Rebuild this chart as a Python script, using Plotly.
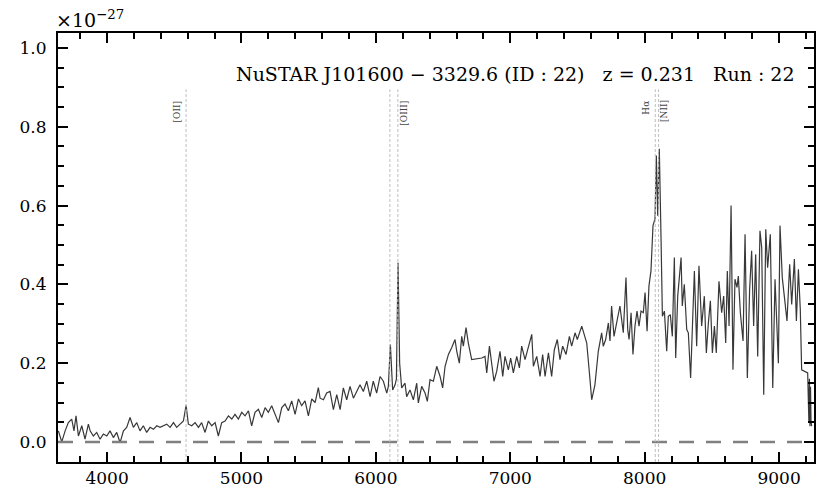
import plotly.graph_objects as go

# spectrum: wavelength in Angstrom, flux in units of 1e-27
wave_blue = [3638, 3663, 3688, 3712, 3737, 3754, 3769, 3787, 3812, 3836,
             3861, 3874, 3898, 3923, 3948, 3973, 3998, 4022, 4047, 4072,
             4097, 4122, 4146, 4171, 4196, 4221, 4245, 4270, 4295, 4320,
             4345, 4370, 4394, 4419, 4444, 4469, 4494, 4518, 4543, 4568,
             4588, 4605, 4630, 4655, 4680, 4704, 4729, 4754, 4779, 4804,
             4828, 4853, 4878, 4903, 4928, 4952, 4977, 5002, 5027, 5052,
             5076, 5101, 5126, 5151, 5176, 5200, 5225, 5250, 5275, 5300,
             5324, 5349, 5374, 5399, 5424, 5448, 5473, 5498, 5523, 5548, 5572]
flux_blue = [0.028, 0.0, 0.028, 0.049, 0.058, 0.028, 0.066, 0.015, 0.041, 0.007,
             0.045, 0.028, 0.015, 0.024, 0.007, 0.020, 0.015, 0.028, 0.011, 0.024,
             -0.002, 0.028, 0.037, 0.062, 0.037, 0.049, 0.028, 0.041, 0.024, 0.037,
             0.032, 0.041, 0.037, 0.041, 0.045, 0.037, 0.049, 0.037, 0.045, 0.053,
             0.093, 0.045, 0.041, 0.049, 0.037, 0.049, 0.024, 0.053, 0.041, 0.049,
             0.015, 0.049, 0.053, 0.066, 0.058, 0.070, 0.058, 0.075, 0.066, 0.079,
             0.041, 0.075, 0.083, 0.062, 0.087, 0.075, 0.092, 0.070, 0.049, 0.087,
             0.096, 0.079, 0.104, 0.070, 0.109, 0.092, 0.104, 0.066, 0.109, 0.100, 0.138]

wave_mid = [5585, 5610, 5634, 5659, 5684, 5709, 5734, 5758, 5783, 5808,
            5833, 5858, 5882, 5907, 5932, 5957, 5981, 6006, 6031, 6056,
            6081, 6093, 6108, 6125, 6143, 6153, 6165, 6177, 6192, 6217,
            6229, 6254, 6279, 6304, 6316, 6341, 6366, 6383, 6403, 6428,
            6453, 6478, 6497, 6515, 6540, 6564, 6589, 6602, 6621, 6639,
            6651, 6671, 6688, 6713, 6788, 6812, 6825, 6845, 6862, 6879,
            6899, 6924, 6944, 6961, 6986, 7003, 7023, 7048, 7068, 7085,
            7110, 7135, 7160, 7172, 7197, 7222, 7241, 7259, 7284, 7308,
            7328, 7350, 7370, 7390, 7415, 7440, 7457, 7482, 7499, 7532,
            7556, 7569, 7589, 7606, 7630, 7655, 7680, 7692, 7710, 7730,
            7742, 7754, 7772, 7792, 7816, 7841]
flux_mid = [0.111, 0.107, 0.124, 0.128, 0.082, 0.120, 0.082, 0.137, 0.107, 0.141,
            0.111, 0.128, 0.145, 0.128, 0.154, 0.115, 0.154, 0.124, 0.166, 0.154,
            0.124, 0.141, 0.247, 0.132, 0.145, 0.160, 0.455, 0.200, 0.137, 0.149,
            0.115, 0.132, 0.107, 0.149, 0.099, 0.141, 0.124, 0.103, 0.158, 0.154,
            0.192, 0.166, 0.137, 0.192, 0.222, 0.239, 0.260, 0.230, 0.200, 0.268,
            0.243, 0.290, 0.251, 0.209, 0.213, 0.217, 0.175, 0.243, 0.200, 0.154,
            0.179, 0.230, 0.166, 0.217, 0.183, 0.213, 0.175, 0.217, 0.188, 0.243,
            0.209, 0.243, 0.273, 0.192, 0.217, 0.166, 0.222, 0.166, 0.226, 0.166,
            0.234, 0.260, 0.209, 0.243, 0.222, 0.268, 0.243, 0.277, 0.260, 0.294,
            0.268, 0.251, 0.175, 0.107, 0.145, 0.230, 0.277, 0.243, 0.260, 0.302,
            0.256, 0.345, 0.268, 0.302, 0.345, 0.277]

wave_red = [7861, 7874, 7884, 7899, 7913, 7928, 7943, 7958, 7973, 7990,
            8003, 8018, 8032, 8047, 8062, 8077, 8087, 8097, 8109, 8122,
            8132, 8147, 8164, 8176, 8191, 8206, 8221, 8231, 8246, 8271,
            8280, 8295, 8313, 8325, 8342, 8370, 8387, 8404, 8424, 8444,
            8459, 8474, 8489, 8504, 8519, 8533, 8553, 8573, 8588, 8603,
            8615, 8628, 8643, 8657, 8672, 8687, 8697, 8712, 8732, 8747,
            8764, 8781, 8796, 8811, 8826, 8841, 8858, 8871, 8886, 8901,
            8915, 8935, 8953, 8970, 8985, 8995, 9007, 9024, 9039, 9059,
            9079, 9094, 9114, 9129, 9144, 9158, 9168, 9193, 9213, 9222,
            9226, 9230, 9234, 9238, 9243]
flux_red = [0.417, 0.285, 0.260, 0.328, 0.222, 0.294, 0.332, 0.294, 0.332, 0.328,
            0.379, 0.281, 0.396, 0.434, 0.549, 0.566, 0.727, 0.574, 0.744, 0.515,
            0.319, 0.332, 0.230, 0.319, 0.323, 0.268, 0.468, 0.213, 0.370, 0.468,
            0.345, 0.400, 0.285, 0.277, 0.162, 0.434, 0.243, 0.447, 0.294, 0.370,
            0.226, 0.302, 0.358, 0.226, 0.294, 0.226, 0.408, 0.328, 0.370, 0.251,
            0.434, 0.294, 0.600, 0.183, 0.413, 0.392, 0.421, 0.328, 0.256, 0.527,
            0.162, 0.387, 0.485, 0.294, 0.476, 0.217, 0.536, 0.493, 0.120, 0.540,
            0.442, 0.527, 0.137, 0.413, 0.256, 0.200, 0.549, 0.417, 0.370, 0.307,
            0.451, 0.349, 0.464, 0.307, 0.438, 0.336, 0.183, 0.179, 0.175, 0.050,
            0.160, 0.040, 0.140, 0.050, 0.040]

# emission lines (rest frame) and redshift
z = 0.231
line_rest = [3727, 4959, 5007, 6563, 6583]
line_names = ["[OII]", "", "[OIII]", "Hα", "[NII]"]
label_side = [-1, 1, 1, -1, 1]

wave = wave_blue + wave_mid + wave_red
flux = flux_blue + flux_mid + flux_red

xr = [3635, 9260]
yr = [-0.051, 1.038]
serif = "DejaVu Serif"

fig = go.Figure()
fig.add_trace(go.Scatter(x=wave, y=flux, mode="lines",
                         line=dict(color="#383838", width=1.2), showlegend=False))

fig.add_hline(y=0, line=dict(color="#808080", width=2.5, dash="15px,12px"))

for rest, name, side in zip(line_rest, line_names, label_side):
    obs = rest * (1 + z)
    fig.add_shape(type="line", x0=obs, x1=obs, y0=yr[0], y1=0.895,
                  line=dict(color="#bdbdbd", width=1, dash="3px,2px"))
    if name:
        fig.add_annotation(x=obs, y=0.872, text=name, textangle=-90, showarrow=False,
                           xanchor="center", yanchor="top",
                           xshift=-9 if side < 0 else 6,
                           font=dict(family=serif, size=9, color="#444444"))

fig.add_annotation(xref="paper", yref="paper", x=0.9775, y=0.904,
                   xanchor="right", yanchor="middle", showarrow=False,
                   text="NuSTAR J101600 − 3329.6 (ID : 22)\u00a0\u00a0\u00a0z = 0.231\u00a0\u00a0\u00a0Run : 22",
                   font=dict(family=serif, size=19, color="black"))
fig.add_annotation(xref="paper", yref="paper", x=0, y=1, xanchor="left", yanchor="bottom",
                   xshift=-4, showarrow=False, text="×10<sup>−27</sup>",
                   font=dict(family=serif, size=19, color="black"))

axis_style = dict(showline=True, linewidth=2, linecolor="black", mirror="allticks",
                  ticks="inside", ticklen=10, tickwidth=2, tickcolor="black",
                  showgrid=False, zeroline=False,
                  tickfont=dict(family=serif, size=17, color="black"))
fig.update_xaxes(range=xr, dtick=1000, tick0=0, automargin=False,
                 minor=dict(ticks="inside", ticklen=6, dtick=200,
                            tickwidth=2, tickcolor="black"),
                 **axis_style)
fig.update_yaxes(range=yr, dtick=0.2, tick0=0, tickformat=".1f",
                 ticklabelstandoff=6, automargin=False,
                 minor=dict(ticks="inside", ticklen=6, dtick=0.05,
                            tickwidth=2, tickcolor="black"),
                 **axis_style)

# the page body adds an 8px offset, so the figure is a bit smaller than the window
fig.update_layout(width=822, height=490, plot_bgcolor="white", paper_bgcolor="white",
                  margin=dict(l=50, r=16, t=25, b=36))

fig.write_html("out.html")
